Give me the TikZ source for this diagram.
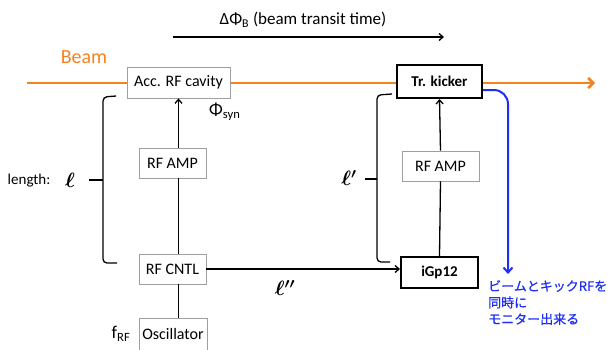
\documentclass[tikz,border=0pt]{standalone}
\usepackage{bm}
\usepackage{fontspec}
\setmainfont{Carlito}
\newfontfamily\jpfont[FakeBold=0.6]{Noto Sans CJK JP}
\usetikzlibrary{arrows.meta, positioning, calc}
\definecolor{beamOrange}{HTML}{F5821F}
\definecolor{noteBlue}{HTML}{1E2EF5}

\begin{document}
\begin{tikzpicture}[x=1pt, y=-1pt,
    box/.style={rectangle, draw=gray!75, fill=white, line width=0.8pt, inner sep=0pt,
      font=\fontsize{16}{19}\selectfont},
    boldbox/.style={box, draw=black, line width=2pt, font=\fontsize{15}{18}\selectfont\bfseries},
    conn/.style={line width=1.3pt},
    arr/.style={conn, -{Straight Barb[length=4pt, width=7pt]}},
    lbl/.style={font=\fontsize{15}{18}\selectfont, inner sep=0pt},
    ellbl/.style={font=\fontsize{20}{22}\selectfont, inner sep=0pt}
  ]
  \useasboundingbox (0,0) rectangle (611,349);

  % === Beam ===
  \coordinate (beamL) at (27,83);
  \coordinate (beamR) at (595,83);
  \draw[beamOrange, line width=2.6pt, -{Straight Barb[length=5pt, width=10pt]}] (beamL) -- (beamR);
  \node[lbl, text=beamOrange, font=\fontsize{20}{22}\selectfont] (beam) at (84,57) {Beam};

  % transit time
  \node[lbl, font=\fontsize{17}{20}\selectfont] (transit) at (303,20) {ΔΦ\textsubscript{B} (beam transit time)};
  \coordinate (tA) at (173,37);
  \coordinate (tB) at (444,37);
  \draw[arr] (tA) -- (tB);

  % === Acc. side ===
  \node[box, minimum width=103pt, minimum height=31pt] (acc) at (178.5,82.5) {Acc. RF cavity};
  \node[box, minimum width=67pt, minimum height=30pt] (amp1) at (172.5,163) {RF AMP};
  \node[box, minimum width=67pt, minimum height=30pt] (cntl) at (172.5,269) {RF CNTL};
  \node[box, minimum width=68pt, minimum height=32pt] (osc) at (173,334) {Oscillator};
  \draw[conn] (osc.north -| acc.south) -- (cntl.south -| acc.south);
  \draw[conn] (cntl.north -| acc.south) -- (amp1.south -| acc.south);
  \draw[arr] (amp1.north -| acc.south) -- (acc.south);
  \node[lbl, anchor=west, font=\fontsize{18}{20}\selectfont] (phisyn) at (209,112) {Φ\textsubscript{syn}};
  \node[lbl, font=\fontsize{18}{20}\selectfont] (frf) at (121,334) {f\textsubscript{RF}};

  % length bracket
  \draw[conn, rounded corners=4pt] (116,96) -- (103,97) -- (103,263) -- (117,263);
  \draw[conn] (89,180) -- (103,180);
  \node[lbl] (len) at (29,181) {length:};
  \node[ellbl] (ell) at (70,180) {$\bm{\ell}$};

  % === Kicker side ===
  \node[boldbox, minimum width=85pt, minimum height=33pt] (kick) at (439.5,81.5) {Tr. kicker};
  \node[box, minimum width=77pt, minimum height=30pt] (amp2) at (440.5,166) {RF AMP};
  \node[boldbox, minimum width=77pt, minimum height=31pt] (igp) at (439.5,272.5) {iGp12};
  \draw[conn] (igp.north) -- (amp2.south);
  \draw[arr] (amp2.north) -- (kick.south);
  \draw[arr] (cntl.east) -- (cntl.east -| igp.west);
  \node[ellbl] (ell2) at (285,288) {$\bm{\ell''}$};

  % kicker bracket
  \draw[conn, rounded corners=4pt] (392,94) -- (377,95) -- (377,262) -- (390,262);
  \draw[conn] (365,179) -- (377,179);
  \node[ellbl] (ell1) at (349,178) {$\bm{\ell'}$};

  % === monitor note ===
  \coordinate (noteTip) at (508,274);
  \draw[noteBlue, line width=2pt, rounded corners=14pt, -{Straight Barb[length=5pt, width=9pt]}]
    ([yshift=-8.5pt]kick.east) -| (noteTip);
  \node[anchor=north west, align=left, text=noteBlue, inner sep=0pt,
    font=\jpfont\fontsize{13}{16.5}\selectfont] (note) at (488,280)
    {ビームとキックRFを\\同時に\\モニター出来る};
\end{tikzpicture}
\end{document}
